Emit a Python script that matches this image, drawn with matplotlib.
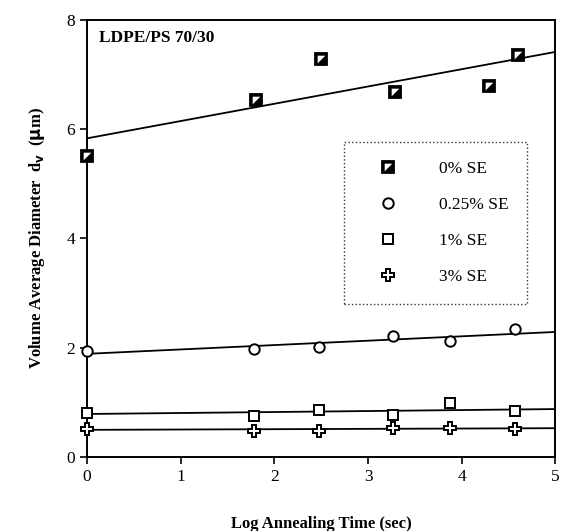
import matplotlib.pyplot as plt
from matplotlib.legend_handler import HandlerTuple

plt.rcParams['font.family'] = ['Liberation Serif', 'DejaVu Serif']

# Data
x_0 = [0, 1.8, 2.5, 3.29, 4.29, 4.6]
y_0 = [5.5, 6.53, 7.28, 6.68, 6.79, 7.36]

x_other = [0, 1.78, 2.48, 3.27, 3.87, 4.57]
y_025 = [1.94, 1.98, 2.01, 2.22, 2.12, 2.34]
y_1 = [0.81, 0.76, 0.87, 0.77, 0.99, 0.84]
y_3 = [0.52, 0.48, 0.48, 0.53, 0.53, 0.51]

# Fitted lines, value at x=0 and x=5
fit_x = [0, 5]
fit_0 = [5.83, 7.41]
fit_025 = [1.89, 2.29]
fit_1 = [0.79, 0.88]
fit_3 = [0.50, 0.53]

labels = ["0% SE", "0.25% SE", "1% SE", "3% SE"]
x_ticks = [0, 1, 2, 3, 4, 5]
y_ticks = [0, 2, 4, 6, 8]

# white corner triangle for the half filled square
tri = [(-1, 1), (1, 1), (-1, -1), (-1, 1)]

fig = plt.figure(figsize=(5.63, 5.31), dpi=100)
ax = fig.add_axes([0.1545, 0.139, 0.832, 0.824])

# fit lines
for fy in [fit_0, fit_025, fit_1, fit_3]:
    ax.plot(fit_x, fy, color="black", lw=1.3, zorder=2)

# points
h0a, = ax.plot(x_0, y_0, ls="none", marker="s", ms=8, mfc="black", mec="black", mew=1.3,
               zorder=3, clip_on=False)
h0b, = ax.plot(x_0, y_0, ls="none", marker=tri, ms=5.5, mfc="white", mec="white", mew=0,
               zorder=4, clip_on=False)
h1, = ax.plot(x_other, y_025, ls="none", marker="o", ms=7.5, mfc="white", mec="black", mew=1.4,
              zorder=3, clip_on=False)
h2, = ax.plot(x_other, y_1, ls="none", marker="s", ms=7.5, mfc="white", mec="black", mew=1.4,
              zorder=3, clip_on=False)
h3, = ax.plot(x_other, y_3, ls="none", marker="P", ms=8.5, mfc="white", mec="black", mew=1.4,
              zorder=3, clip_on=False)

ax.set_xlim(0, 5)
ax.set_ylim(0, 8)
ax.set_xticks(x_ticks)
ax.set_yticks(y_ticks)
ax.tick_params(direction="out", length=5, width=1.2, labelsize=12.5, top=False, right=False)
for s in ax.spines.values():
    s.set_linewidth(1.4)

ax.set_xlabel("Log Annealing Time (sec)", fontsize=12, fontweight="bold", labelpad=22)
ax.set_ylabel(r"Volume Average Diameter  d$_\mathbf{v}$  ($\mathbf{\mu}$m)", fontsize=12,
              fontweight="bold", labelpad=14)

ax.text(0.025, 0.958, "LDPE/PS 70/30", transform=ax.transAxes, fontsize=12.5,
        fontweight="bold", va="center")

leg = ax.legend([(h0a, h0b), h1, h2, h3], labels,
                handler_map={tuple: HandlerTuple(ndivide=1, pad=0)},
                loc="upper left", bbox_to_anchor=(0.549, 0.721), borderaxespad=0,
                fontsize=12.5, frameon=True, fancybox=False, edgecolor="black",
                labelspacing=1.15, borderpad=1.1, handlelength=2.8, handletextpad=1.55)
leg.get_frame().set_linestyle(":")
leg.get_frame().set_linewidth(1.0)

fig.savefig("out.png", dpi=100)
